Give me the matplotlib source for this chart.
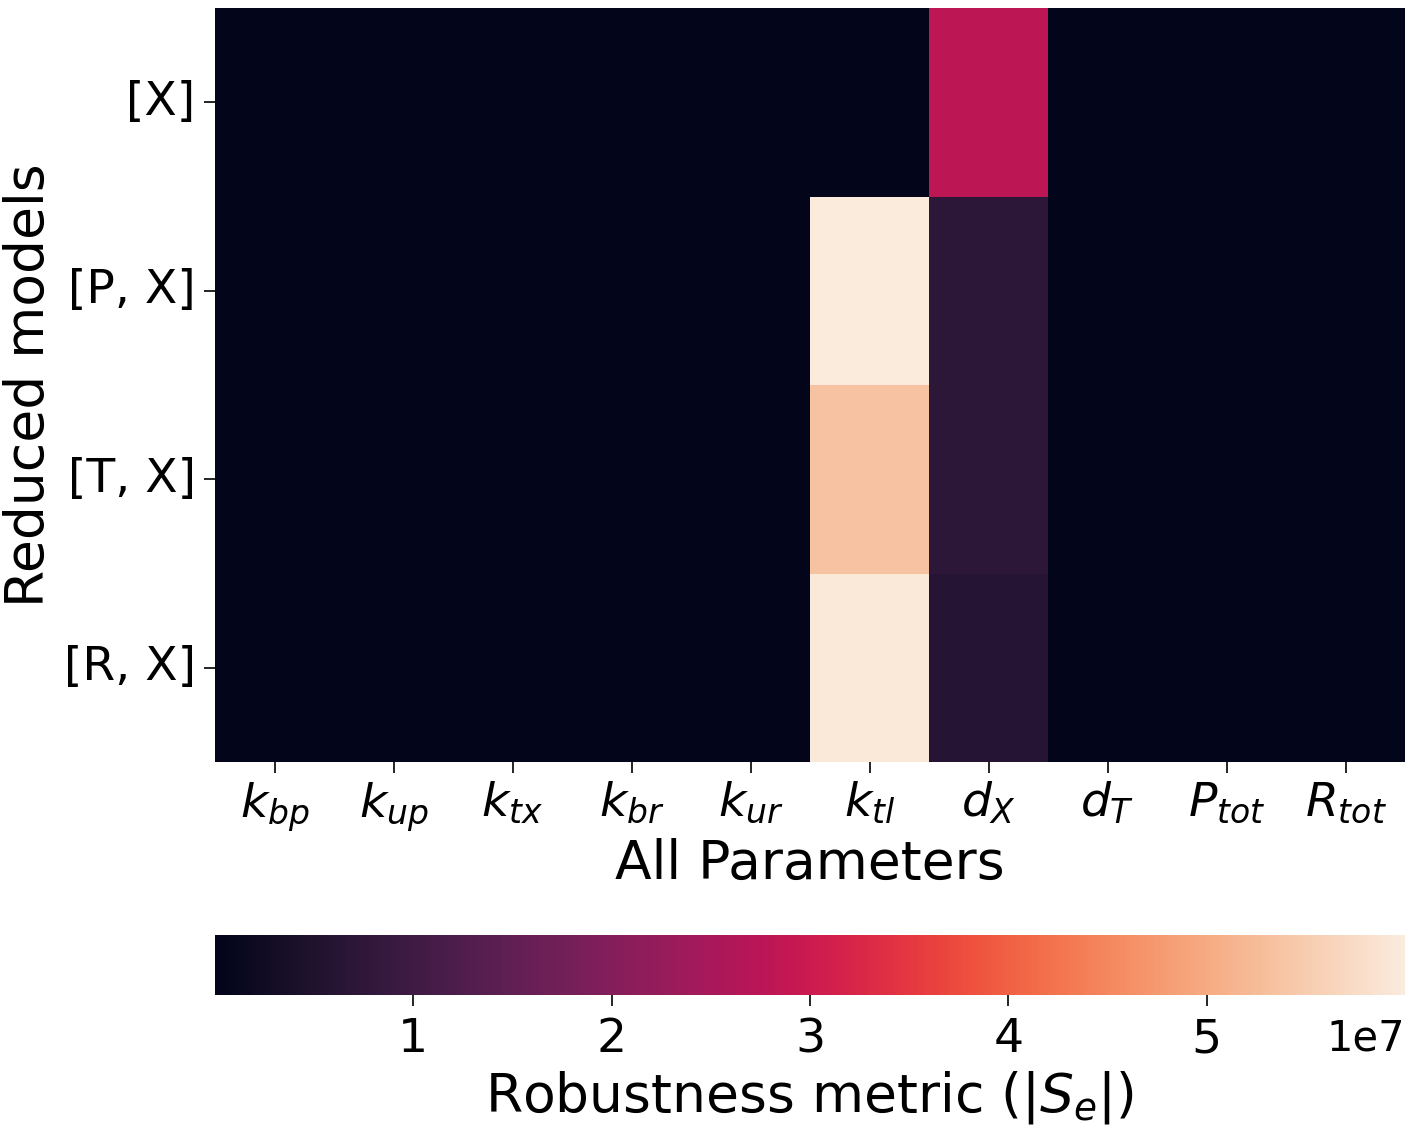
import numpy as np
import matplotlib
matplotlib.use("Agg")
import matplotlib.pyplot as plt
import seaborn as sns

models = ["[X]", "[P, X]", "[T, X]", "[R, X]"]
params = [r"$k_{bp}$", r"$k_{up}$", r"$k_{tx}$", r"$k_{br}$", r"$k_{ur}$",
          r"$k_{tl}$", r"$d_X$", r"$d_T$", r"$P_{tot}$", r"$R_{tot}$"]

# |S_e| per reduced model (rows) and parameter (columns)
se_X  = [0, 0, 0, 0, 0, 0.0,    2.8e7,  0, 0, 0]
se_PX = [0, 0, 0, 0, 0, 6.0e7,  0.72e7, 0, 0, 0]
se_TX = [0, 0, 0, 0, 0, 5.35e7, 0.72e7, 0, 0, 0]
se_RX = [0, 0, 0, 0, 0, 5.95e7, 0.6e7,  0, 0, 0]

cbar_ticks = [1e7, 2e7, 3e7, 4e7, 5e7]
cbar_ticklabels = ["1", "2", "3", "4", "5"]

data = np.array([se_X, se_PX, se_TX, se_RX])

fig = plt.figure(figsize=(14.15, 11.25), dpi=100)
ax = fig.add_axes([215 / 1415, 363 / 1125, 1190 / 1415, 754 / 1125])
cax = fig.add_axes([215 / 1415, 130 / 1125, 1190 / 1415, 60 / 1125])

sns.heatmap(data, cmap="rocket", ax=ax, cbar_ax=cax,
            xticklabels=params, yticklabels=models,
            cbar_kws={"orientation": "horizontal"})

ax.tick_params(axis="x", labelsize=34, length=8, width=1.2, pad=5, rotation=0)
ax.tick_params(axis="y", labelsize=34, length=8, width=1.2, pad=6, rotation=0)
ax.set_xlabel("All Parameters", fontsize=38.5, labelpad=3)
ax.set_ylabel("Reduced models", fontsize=38.5, labelpad=6)

cax.set_xticks(cbar_ticks)
cax.set_xticklabels(cbar_ticklabels)
cax.tick_params(axis="x", labelsize=34, length=8, width=1.2, pad=8)
cax.set_xlabel(r"Robustness metric ($|S_e|$)", fontsize=38.5, labelpad=5)
cax.text(1.0, -0.38, "1e7", transform=cax.transAxes, ha="right", va="top",
         fontsize=30)
for s in cax.spines.values():
    s.set_visible(False)

fig.savefig("out.png", dpi=100)
